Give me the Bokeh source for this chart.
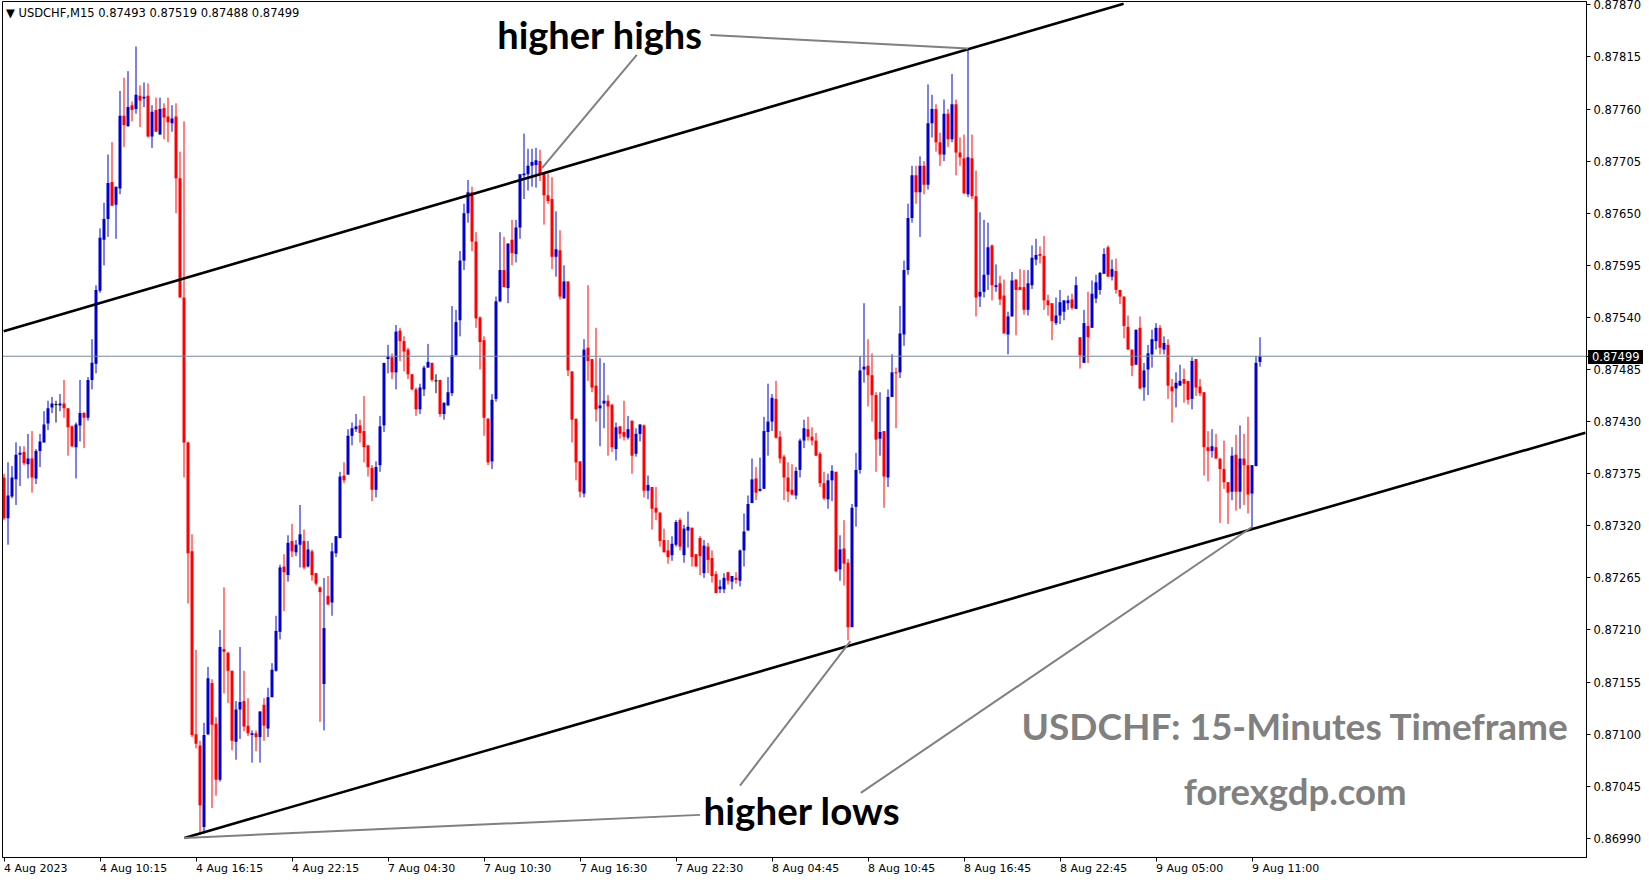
import numpy as np
from bokeh.plotting import figure
from bokeh.models import Range1d, FixedTicker, Label, Span, PrintfTickFormatter
from bokeh.embed import file_html
from bokeh.resources import INLINE

# ---------------- data (USDCHF M15) ----------------
opens = [
0.87371,0.87328,0.87351,0.87369,0.87395,0.87398,0.87385,0.87391,0.87370,0.87399,
0.87408,0.87428,0.87445,0.87448,0.87447,0.87449,0.87444,0.87425,0.87403,0.87426,
0.87439,0.87434,0.87474,0.87491,0.87568,0.87622,0.87644,0.87683,0.87659,0.87676,
0.87753,0.87742,0.87764,0.87760,0.87774,0.87771,0.87774,0.87731,0.87759,0.87733,
0.87761,0.87752,0.87745,0.87752,0.87687,0.87561,0.87408,0.87293,0.87100,0.87088,
0.87002,0.87100,0.87154,0.87111,0.87052,0.87190,0.87186,0.87167,0.87092,0.87126,
0.87135,0.87109,0.87099,0.87101,0.87097,0.87131,0.87106,0.87139,0.87167,0.87208,
0.87277,0.87268,0.87304,0.87292,0.87300,0.87304,0.87277,0.87293,0.87270,0.87255,
0.87153,0.87246,0.87239,0.87291,0.87307,0.87373,0.87374,0.87415,0.87422,0.87426,
0.87420,0.87405,0.87381,0.87358,0.87384,0.87426,0.87496,0.87498,0.87482,0.87526,
0.87515,0.87506,0.87480,0.87464,0.87443,0.87464,0.87487,0.87492,0.87473,0.87474,
0.87438,0.87447,0.87460,0.87500,0.87537,0.87600,0.87650,0.87672,0.87620,0.87540,
0.87516,0.87433,0.87388,0.87454,0.87557,0.87590,0.87571,0.87622,0.87607,0.87635,
0.87690,0.87691,0.87700,0.87701,0.87705,0.87692,0.87669,0.87665,0.87604,0.87611,
0.87560,0.87578,0.87483,0.87433,0.87388,0.87354,0.87508,0.87496,0.87468,0.87444,
0.87449,0.87452,0.87448,0.87401,0.87425,0.87419,0.87413,0.87431,0.87396,0.87417,
0.87426,0.87357,0.87361,0.87339,0.87334,0.87305,0.87294,0.87289,0.87300,0.87326,
0.87289,0.87315,0.87318,0.87290,0.87307,0.87270,0.87298,0.87286,0.87269,0.87253,
0.87253,0.87271,0.87261,0.87265,0.87262,0.87294,0.87315,0.87344,0.87370,0.87357,
0.87359,0.87419,0.87430,0.87454,0.87414,0.87393,0.87371,0.87358,0.87352,0.87379,
0.87410,0.87422,0.87414,0.87410,0.87396,0.87365,0.87348,0.87368,0.87377,0.87274,
0.87296,0.87281,0.87213,0.87340,0.87379,0.87485,0.87489,0.87479,0.87458,0.87412,
0.87420,0.87371,0.87456,0.87482,0.87482,0.87522,0.87590,0.87645,0.87690,0.87672,
0.87700,0.87680,0.87745,0.87760,0.87725,0.87712,0.87755,0.87728,0.87765,0.87714,
0.87708,0.87670,0.87708,0.87668,0.87562,0.87567,0.87585,0.87616,0.87572,0.87576,
0.87563,0.87522,0.87541,0.87580,0.87572,0.87572,0.87548,0.87574,0.87601,0.87607,
0.87605,0.87558,0.87555,0.87534,0.87542,0.87546,0.87555,0.87559,0.87549,0.87519,
0.87492,0.87531,0.87529,0.87560,0.87569,0.87586,0.87614,0.87583,0.87589,0.87569,
0.87562,0.87530,0.87506,0.87490,0.87529,0.87466,0.87485,0.87501,0.87515,0.87529,
0.87506,0.87511,0.87467,0.87465,0.87468,0.87475,0.87473,0.87454,0.87496,0.87467,
0.87461,0.87403,0.87399,0.87403,0.87391,0.87380,0.87366,0.87356,0.87395,0.87356,
0.87391,0.87384,0.87354,0.87383,0.87493]

closes = [
0.87328,0.87352,0.87371,0.87395,0.87397,0.87386,0.87391,0.87371,0.87399,0.87409,
0.87427,0.87444,0.87449,0.87448,0.87449,0.87444,0.87424,0.87404,0.87427,0.87439,
0.87434,0.87474,0.87492,0.87569,0.87624,0.87644,0.87682,0.87658,0.87678,0.87753,
0.87743,0.87762,0.87759,0.87775,0.87769,0.87773,0.87731,0.87757,0.87736,0.87760,
0.87751,0.87746,0.87750,0.87687,0.87561,0.87408,0.87291,0.87099,0.87090,0.87025,
0.87099,0.87159,0.87110,0.87052,0.87192,0.87187,0.87167,0.87093,0.87126,0.87134,
0.87108,0.87101,0.87101,0.87097,0.87124,0.87109,0.87139,0.87168,0.87209,0.87276,
0.87271,0.87302,0.87293,0.87300,0.87311,0.87276,0.87295,0.87268,0.87259,0.87250,
0.87212,0.87237,0.87293,0.87309,0.87372,0.87368,0.87415,0.87423,0.87425,0.87418,
0.87403,0.87382,0.87358,0.87382,0.87425,0.87492,0.87499,0.87482,0.87525,0.87515,
0.87504,0.87480,0.87464,0.87443,0.87466,0.87487,0.87493,0.87474,0.87473,0.87438,
0.87450,0.87461,0.87500,0.87535,0.87600,0.87650,0.87672,0.87620,0.87539,0.87514,
0.87434,0.87387,0.87453,0.87557,0.87590,0.87572,0.87618,0.87608,0.87635,0.87691,
0.87692,0.87700,0.87704,0.87706,0.87692,0.87669,0.87663,0.87604,0.87612,0.87562,
0.87578,0.87484,0.87432,0.87387,0.87356,0.87506,0.87494,0.87466,0.87443,0.87447,
0.87452,0.87446,0.87403,0.87424,0.87417,0.87414,0.87422,0.87394,0.87417,0.87427,
0.87357,0.87363,0.87338,0.87334,0.87304,0.87292,0.87287,0.87301,0.87324,0.87298,
0.87317,0.87319,0.87287,0.87277,0.87288,0.87299,0.87284,0.87267,0.87249,0.87256,
0.87265,0.87262,0.87267,0.87263,0.87294,0.87314,0.87343,0.87369,0.87355,0.87359,
0.87420,0.87430,0.87455,0.87413,0.87391,0.87371,0.87356,0.87353,0.87378,0.87410,
0.87423,0.87414,0.87410,0.87394,0.87365,0.87349,0.87368,0.87378,0.87272,0.87295,
0.87280,0.87213,0.87339,0.87379,0.87484,0.87488,0.87479,0.87458,0.87411,0.87419,
0.87372,0.87456,0.87482,0.87481,0.87523,0.87590,0.87645,0.87690,0.87672,0.87700,
0.87680,0.87745,0.87760,0.87725,0.87712,0.87755,0.87728,0.87765,0.87714,0.87709,
0.87671,0.87709,0.87668,0.87561,0.87567,0.87585,0.87614,0.87574,0.87574,0.87559,
0.87523,0.87541,0.87579,0.87569,0.87569,0.87548,0.87576,0.87603,0.87606,0.87605,
0.87558,0.87553,0.87536,0.87542,0.87556,0.87558,0.87558,0.87550,0.87574,0.87500,
0.87534,0.87519,0.87565,0.87577,0.87587,0.87607,0.87583,0.87591,0.87569,0.87562,
0.87531,0.87506,0.87489,0.87527,0.87465,0.87484,0.87502,0.87517,0.87529,0.87508,
0.87513,0.87468,0.87462,0.87471,0.87473,0.87470,0.87453,0.87494,0.87466,0.87460,
0.87403,0.87399,0.87404,0.87391,0.87380,0.87366,0.87355,0.87394,0.87356,0.87391,
0.87384,0.87353,0.87384,0.87492,0.87499]

highs = [
0.87375,0.87387,0.87383,0.87408,0.87404,0.87404,0.87417,0.87420,0.87401,0.87417,
0.87441,0.87452,0.87456,0.87452,0.87459,0.87474,0.87444,0.87426,0.87429,0.87474,
0.87440,0.87477,0.87517,0.87574,0.87634,0.87661,0.87712,0.87725,0.87678,0.87779,
0.87793,0.87800,0.87768,0.87826,0.87785,0.87788,0.87787,0.87764,0.87772,0.87772,
0.87766,0.87772,0.87764,0.87766,0.87715,0.87747,0.87409,0.87311,0.87189,0.87093,
0.87112,0.87171,0.87158,0.87118,0.87210,0.87255,0.87187,0.87167,0.87135,0.87192,
0.87167,0.87138,0.87104,0.87104,0.87124,0.87138,0.87149,0.87175,0.87225,0.87279,
0.87290,0.87310,0.87322,0.87305,0.87342,0.87316,0.87304,0.87295,0.87270,0.87256,
0.87265,0.87267,0.87302,0.87309,0.87377,0.87387,0.87422,0.87429,0.87438,0.87432,
0.87457,0.87405,0.87384,0.87388,0.87436,0.87492,0.87511,0.87502,0.87532,0.87529,
0.87520,0.87508,0.87480,0.87466,0.87470,0.87489,0.87512,0.87492,0.87480,0.87474,
0.87450,0.87477,0.87552,0.87548,0.87610,0.87660,0.87685,0.87678,0.87630,0.87541,
0.87520,0.87434,0.87459,0.87562,0.87630,0.87625,0.87618,0.87643,0.87643,0.87691,
0.87734,0.87718,0.87718,0.87719,0.87717,0.87692,0.87692,0.87688,0.87652,0.87632,
0.87595,0.87578,0.87483,0.87433,0.87388,0.87517,0.87574,0.87496,0.87529,0.87497,
0.87492,0.87458,0.87448,0.87429,0.87425,0.87452,0.87436,0.87431,0.87423,0.87427,
0.87427,0.87373,0.87361,0.87361,0.87334,0.87317,0.87305,0.87309,0.87326,0.87328,
0.87321,0.87335,0.87318,0.87290,0.87309,0.87305,0.87302,0.87294,0.87272,0.87263,
0.87270,0.87271,0.87267,0.87271,0.87295,0.87333,0.87352,0.87391,0.87382,0.87392,
0.87435,0.87470,0.87459,0.87473,0.87420,0.87395,0.87387,0.87385,0.87382,0.87412,
0.87432,0.87435,0.87424,0.87418,0.87398,0.87377,0.87375,0.87384,0.87377,0.87310,
0.87326,0.87285,0.87343,0.87397,0.87499,0.87555,0.87517,0.87502,0.87461,0.87461,
0.87420,0.87464,0.87501,0.87487,0.87552,0.87600,0.87660,0.87700,0.87700,0.87710,
0.87705,0.87786,0.87775,0.87765,0.87735,0.87770,0.87760,0.87797,0.87770,0.87730,
0.87733,0.87824,0.87733,0.87695,0.87651,0.87643,0.87640,0.87617,0.87596,0.87584,
0.87580,0.87546,0.87588,0.87580,0.87591,0.87590,0.87590,0.87616,0.87623,0.87615,
0.87626,0.87564,0.87555,0.87561,0.87569,0.87558,0.87563,0.87565,0.87583,0.87519,
0.87548,0.87567,0.87579,0.87585,0.87588,0.87613,0.87616,0.87601,0.87602,0.87569,
0.87562,0.87542,0.87506,0.87527,0.87541,0.87492,0.87511,0.87527,0.87534,0.87532,
0.87520,0.87517,0.87475,0.87482,0.87490,0.87486,0.87473,0.87498,0.87496,0.87475,
0.87461,0.87420,0.87422,0.87417,0.87391,0.87410,0.87366,0.87403,0.87416,0.87426,
0.87417,0.87435,0.87384,0.87499,0.87519]

lows = [
0.87326,0.87300,0.87349,0.87342,0.87362,0.87384,0.87370,0.87355,0.87364,0.87382,
0.87408,0.87421,0.87439,0.87429,0.87441,0.87434,0.87394,0.87403,0.87370,0.87409,
0.87402,0.87431,0.87464,0.87481,0.87566,0.87595,0.87625,0.87658,0.87623,0.87670,
0.87720,0.87741,0.87747,0.87755,0.87741,0.87762,0.87730,0.87719,0.87736,0.87733,
0.87728,0.87725,0.87736,0.87650,0.87561,0.87371,0.87238,0.87097,0.87085,0.86994,
0.86995,0.87099,0.87022,0.87035,0.87050,0.87143,0.87133,0.87083,0.87073,0.87095,
0.87103,0.87098,0.87070,0.87082,0.87070,0.87093,0.87097,0.87139,0.87166,0.87200,
0.87230,0.87261,0.87287,0.87288,0.87276,0.87274,0.87276,0.87262,0.87257,0.87113,
0.87104,0.87236,0.87225,0.87287,0.87307,0.87365,0.87374,0.87405,0.87419,0.87408,
0.87387,0.87372,0.87346,0.87350,0.87377,0.87419,0.87481,0.87475,0.87464,0.87494,
0.87483,0.87475,0.87463,0.87436,0.87438,0.87457,0.87487,0.87472,0.87460,0.87435,
0.87432,0.87447,0.87457,0.87500,0.87520,0.87590,0.87640,0.87610,0.87529,0.87485,
0.87415,0.87384,0.87380,0.87451,0.87556,0.87572,0.87555,0.87595,0.87598,0.87623,
0.87665,0.87674,0.87678,0.87677,0.87684,0.87638,0.87660,0.87591,0.87583,0.87559,
0.87560,0.87478,0.87408,0.87368,0.87350,0.87350,0.87473,0.87461,0.87430,0.87404,
0.87423,0.87394,0.87398,0.87389,0.87412,0.87410,0.87411,0.87375,0.87393,0.87409,
0.87350,0.87348,0.87316,0.87326,0.87298,0.87292,0.87280,0.87283,0.87298,0.87294,
0.87281,0.87297,0.87277,0.87277,0.87268,0.87265,0.87270,0.87260,0.87249,0.87249,
0.87249,0.87258,0.87253,0.87259,0.87256,0.87277,0.87315,0.87344,0.87347,0.87356,
0.87359,0.87394,0.87420,0.87412,0.87386,0.87347,0.87345,0.87352,0.87348,0.87371,
0.87402,0.87410,0.87405,0.87394,0.87361,0.87347,0.87338,0.87346,0.87271,0.87262,
0.87257,0.87199,0.87213,0.87319,0.87375,0.87471,0.87446,0.87430,0.87377,0.87394,
0.87339,0.87361,0.87456,0.87423,0.87476,0.87510,0.87585,0.87640,0.87660,0.87625,
0.87670,0.87675,0.87730,0.87715,0.87700,0.87705,0.87720,0.87725,0.87690,0.87700,
0.87670,0.87667,0.87665,0.87541,0.87551,0.87561,0.87569,0.87558,0.87567,0.87553,
0.87523,0.87501,0.87541,0.87521,0.87569,0.87543,0.87542,0.87570,0.87595,0.87597,
0.87548,0.87542,0.87516,0.87532,0.87533,0.87537,0.87548,0.87548,0.87549,0.87486,
0.87492,0.87492,0.87529,0.87555,0.87564,0.87586,0.87583,0.87579,0.87565,0.87554,
0.87518,0.87506,0.87478,0.87490,0.87464,0.87452,0.87458,0.87487,0.87506,0.87501,
0.87501,0.87454,0.87429,0.87445,0.87468,0.87450,0.87448,0.87443,0.87457,0.87457,
0.87373,0.87367,0.87392,0.87391,0.87323,0.87359,0.87322,0.87347,0.87336,0.87338,
0.87342,0.87333,0.87317,0.87383,0.87488]

x_tick_pos = [0, 24, 48, 72, 96, 120, 144, 168, 192, 216, 240, 264, 288, 312]
x_tick_labels = ["4 Aug 2023", "4 Aug 10:15", "4 Aug 16:15", "4 Aug 22:15",
                 "7 Aug 04:30", "7 Aug 10:30", "7 Aug 16:30", "7 Aug 22:30",
                 "8 Aug 04:45", "8 Aug 10:45", "8 Aug 16:45", "8 Aug 22:45",
                 "9 Aug 05:00", "9 Aug 11:00"]
y_ticks = [0.86990, 0.87045, 0.87100, 0.87155, 0.87210, 0.87265, 0.87320, 0.87375,
           0.87430, 0.87485, 0.87540, 0.87595, 0.87650, 0.87705, 0.87760, 0.87815, 0.87870]
last_price = 0.87499

# channel lines (anchor points: bar index, price)
upper_x = [-0.075, 279.9]
upper_y = [0.875254, 0.878712]
lower_x = [45.1, 395.35]
lower_y = [0.869905, 0.874182]

# annotation pointer lines
ann_lines = [
    ([176.6, 241.0], [0.878381, 0.87824]),
    ([158.2, 134.5], [0.878171, 0.876977]),
    ([174.0, 45.1], [0.870148, 0.869905]),
    ([184.0, 211.6], [0.870457, 0.871983]),
    ([214.2, 312.0], [0.870380, 0.873187]),
]

# ---------------- figure ----------------
o = np.array(opens); c = np.array(closes); h = np.array(highs); l = np.array(lows)
idx = np.arange(len(o))
bull = c > o
bear = c < o
flat = ~(bull | bear)
BLUE = "#0000D2"
RED = "#FF0000"
colors = np.where(bull, BLUE, np.where(bear, RED, "#000000"))

# black price tag drawn over the axis label of the last price
price_tag_css = """
:host::after {
  content: "0.87499";
  position: absolute;
  left: 1588px;
  top: 350px;
  width: 55px;
  height: 14px;
  line-height: 14px;
  padding-left: 4px;
  box-sizing: border-box;
  background: #000000;
  color: #ffffff;
  font-family: "DejaVu Sans", sans-serif;
  font-size: 11.5px;
  z-index: 10;
  pointer-events: none;
}
"""

p = figure(width=1649, height=884,
           x_range=Range1d(-0.375, 395.625), y_range=Range1d(0.869698, 0.878735),
           output_backend="svg", toolbar_location=None,
           y_axis_location="right", x_axis_location="below",
           min_border_left=2, min_border_right=63, min_border_top=1, min_border_bottom=23,
           background_fill_color="white", border_fill_color="white",
           outline_line_color="black", outline_line_width=1,
           stylesheets=[price_tag_css])
p.grid.visible = False

# wicks
p.segment(x0=idx, y0=np.minimum(l, np.minimum(o, c)), x1=idx, y1=np.maximum(h, np.maximum(o, c)),
          line_color=colors, line_width=1)
# bodies
body_bot = np.minimum(o, c)
body_top = np.maximum(np.maximum(o, c), body_bot + 0.000008)
nb = ~flat
p.quad(left=idx[nb] - 0.375, right=idx[nb] + 0.375, top=body_top[nb], bottom=body_bot[nb],
       fill_color=colors[nb], line_color=None)
# doji crosses
p.segment(x0=idx[flat] - 0.375, x1=idx[flat] + 0.375, y0=o[flat], y1=o[flat],
          line_color="#000000", line_width=1)

# current price line
p.add_layout(Span(location=last_price, dimension="width", line_color="#778899", line_width=1))

# channel lines
p.line(upper_x, upper_y, line_color="black", line_width=2.6)
p.line(lower_x, lower_y, line_color="black", line_width=2.6)
for xs, ys in ann_lines:
    p.line(xs, ys, line_color="#808080", line_width=2)

# axes
xa = p.xaxis[0]
xa.ticker = FixedTicker(ticks=x_tick_pos)
xa.major_label_overrides = dict(zip(x_tick_pos, x_tick_labels))
xa.major_label_orientation = -0.0001
xa.major_label_text_font = "DejaVu Sans"
xa.major_label_text_font_size = "11px"
xa.major_label_text_color = "black"
xa.major_tick_in = 0
xa.major_tick_out = 4
xa.minor_tick_line_color = None
xa.major_label_standoff = 7
xa.axis_line_color = "black"

ya = p.yaxis[0]
ya.ticker = FixedTicker(ticks=y_ticks + [last_price])
ya.formatter = PrintfTickFormatter(format="%.5f")
ya.major_label_text_font = "DejaVu Sans"
ya.major_label_text_font_size = "11.5px"
ya.major_label_text_color = "black"
ya.major_tick_in = 0
ya.major_tick_out = 4
ya.minor_tick_line_color = None
ya.major_label_standoff = 3
ya.axis_line_color = "black"

# header
p.add_layout(Label(x=0.5, y=0.878613, text="\u25BC  USDCHF,M15  0.87493 0.87519 0.87488 0.87499",
                   text_font="DejaVu Sans", text_font_size="11.5px", text_color="black",
                   text_baseline="middle", text_align="left"))

# annotation texts
p.add_layout(Label(x=149.0, y=0.878395, text="higher highs", text_font="Lato",
                   text_font_style="bold", text_font_size="38px", text_color="black",
                   text_align="center", text_baseline="middle"))
p.add_layout(Label(x=199.5, y=0.870203, text="higher lows", text_font="Lato",
                   text_font_style="bold", text_font_size="38.5px", text_color="black",
                   text_align="center", text_baseline="middle"))
p.add_layout(Label(x=322.8, y=0.871088, text="USDCHF: 15-Minutes Timeframe", text_font="Lato",
                   text_font_style="bold", text_font_size="37px", text_color="#808080",
                   text_align="center", text_baseline="middle"))
p.add_layout(Label(x=322.8, y=0.870395, text="forexgdp.com", text_font="Lato",
                   text_font_style="bold", text_font_size="36.5px", text_color="#808080",
                   text_align="center", text_baseline="middle"))

open("out.html", "w").write(file_html(p, INLINE))
